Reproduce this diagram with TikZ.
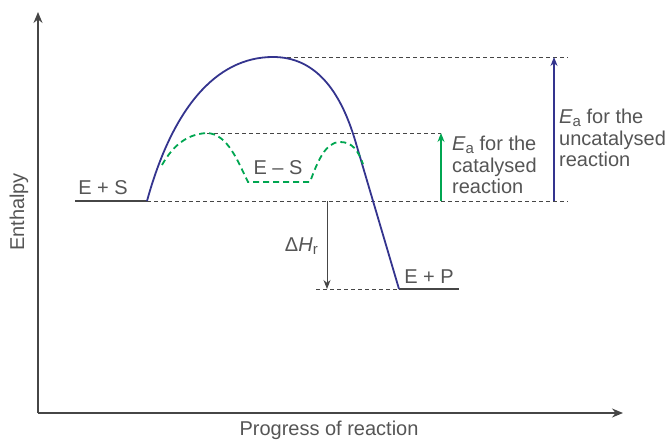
\documentclass[tikz,border=0pt]{standalone}
\usepackage{fontspec}
\setmainfont{Liberation Sans}
\usetikzlibrary{arrows.meta}
\definecolor{txt}{RGB}{85,85,85}
\definecolor{ax}{RGB}{70,70,70}
\definecolor{navy}{RGB}{52,52,142}
\definecolor{grn}{RGB}{0,166,81}
\newcommand{\Ea}{\textit{E}\raisebox{-0.3ex}{\fontsize{15}{15}\selectfont a}}
\begin{document}
\begin{tikzpicture}[x=1pt,y=-1pt,
  lbl/.style={text=txt,font=\fontsize{20}{21.5}\selectfont,inner sep=0pt},
  axisline/.style={draw=ax,line width=1.4pt,-{Stealth[length=11pt,width=9pt]}},
  guide/.style={draw=ax,line width=0.8pt,dash pattern=on 4pt off 3pt},
  level/.style={draw=ax,line width=2pt},
  bluecurve/.style={draw=navy,line width=1.8pt},
  greencurve/.style={draw=grn,line width=1.8pt,dash pattern=on 6pt off 4pt},
  small/.style={-{Stealth[length=9pt,width=7pt]}}]
\useasboundingbox (0,0) rectangle (669,441);
% axes
\coordinate (O) at (38,413);
\coordinate (Ytop) at (38,12);
\coordinate (Xend) at (623,413);
\draw[axisline] (O) -- (Ytop);
\draw[axisline] (O) -- (Xend);
\node[lbl,rotate=90] (ylab) at (19,212) {Enthalpy};
\node[lbl] (xlab) at (329,430) {Progress of reaction};
% key coordinates
\coordinate (S0) at (75,201);
\coordinate (S1) at (147,201);
\coordinate (Pk) at (273,57);
\coordinate (P0) at (399,289);
\coordinate (P1) at (459,289);
\coordinate (Ck) at (207,133);
% guides
\coordinate (g1) at (568,57);
\coordinate (g2) at (441,133);
\coordinate (g3) at (568,201);
\coordinate (g4) at (316,289);
\draw[guide] (Pk) -- (g1);
\draw[guide] (Ck) -- (g2);
\draw[guide] (S1) -- (g3);
\draw[guide] (g4) -- (P0);
% levels
\draw[level] (S0) -- (S1);
\draw[level] (P0) -- (P1);
\node[lbl,anchor=base] (es) at (103,194) {E + S};
\node[lbl,anchor=base] (ep) at (429,283) {E + P};
% uncatalysed curve
\draw[bluecurve] (S1) .. controls (172,110) and (215,57) .. (Pk)
  .. controls (315,57) and (340,90) .. (355,140) -- (P0);
% catalysed curve
\draw[greencurve] (162,165) .. controls (175,142) and (190,134) .. (Ck)
  .. controls (228,134) and (238,162) .. (248,182) -- (310,182)
  .. controls (318,160) and (326,142) .. (340,142)
  .. controls (352,142) and (358,150) .. (363,164);
\node[lbl,anchor=base] (esc) at (278,174) {E – S};
% Delta H arrow
\coordinate (dh0) at (327,201);
\coordinate (dh1) at (327,289);
\draw[ax,line width=1pt,small] (dh0) -- (dh1);
\node[lbl,anchor=base east] (dhl) at (318,251) {Δ\textit{H}\raisebox{-0.3ex}{\fontsize{15}{15}\selectfont r}};
% catalysed Ea arrow
\coordinate (ga0) at (441,201);
\coordinate (ga1) at (441,133);
\draw[grn,line width=1.2pt,small] (ga0) -- (ga1);
\node[lbl,anchor=north west,align=left] (gal) at (452,136) {\Ea{} for the\\catalysed\\reaction};
% uncatalysed Ea arrow
\coordinate (ba0) at (554,201);
\coordinate (ba1) at (554,57);
\draw[navy,line width=1.2pt,small] (ba0) -- (ba1);
\node[lbl,anchor=north west,align=left] (bal) at (559,109) {\Ea{} for the\\uncatalysed\\reaction};
\end{tikzpicture}
\end{document}
